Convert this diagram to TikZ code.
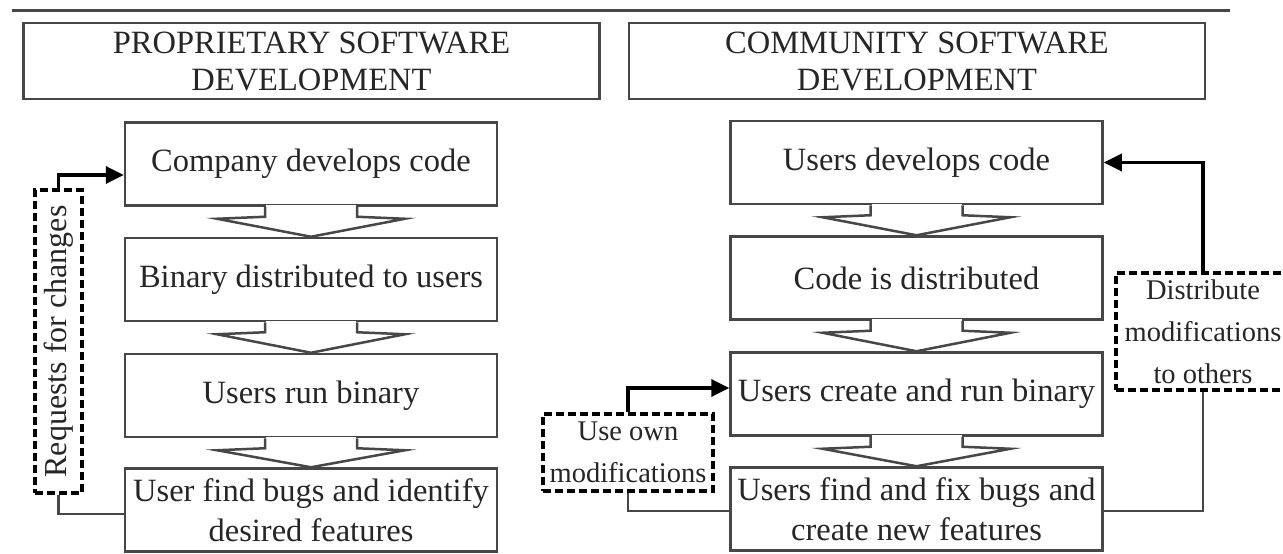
\documentclass[tikz,border=0pt]{standalone}
\usepackage{fontspec}
\setmainfont{Liberation Serif}
\usetikzlibrary{calc,arrows.meta}
\tikzset{
  box/.style={draw=black!72, line width=2.5pt, minimum width=372pt, minimum height=83pt,
    inner sep=0pt, align=center, text=black!85, font=\fontsize{32.5}{40}\selectfont},
  title/.style={box, minimum width=576pt, minimum height=76pt, font=\fontsize{32.5}{37}\selectfont},
  note/.style={draw=black, line width=3.5pt, dash pattern=on 8pt off 4pt, inner sep=0pt,
    align=center, text=black!85, font=\fontsize{28.5}{42}\selectfont},
  chev/.style={draw=black!72, line width=2.5pt},
  back/.style={draw=black!72, line width=2.5pt},
  fwd/.style={draw=black, line width=3.5pt, -{Triangle[length=18pt,width=17pt]}},
}

\begin{document}
\begin{tikzpicture}[x=1pt,y=-1pt]
  \useasboundingbox (0,0) rectangle (1283,554);
  \draw[line width=3pt, black!72] (12,10) -- (1230,10);

  \node[title] (lt) at (311.5,61) {PROPRIETARY SOFTWARE\\DEVELOPMENT};
  \node[title] (rt) at (917,61) {COMMUNITY SOFTWARE\\DEVELOPMENT};

  \node[box] (l1) at (311,164) {Company develops code};
  \node[box] (l2) at (311,279.5) {Binary distributed to users};
  \node[box] (l3) at (311,395.5) {Users run binary};
  \node[box] (l4) at (311,510) {User find bugs and identify\\desired features};

  \node[box] (r1) at (916.5,162.5) {Users develops code};
  \node[box] (r2) at (916.5,278) {Code is distributed};
  \node[box] (r3) at (916.5,394) {Users create and run binary};
  \node[box] (r4) at (916.5,509) {Users find and fix bugs and\\create new features};

  \foreach \c in {l,r}{
    \foreach \i [evaluate=\i as \j using int(\i+1)] in {1,2,3}{
      \draw[white, line width=3.5pt] ($(\c\i.south)+(-45,0)$) -- ($(\c\i.south)+(45,0)$);
      \draw[chev] ($(\c\i.south)+(-46,0)$) -- ++(0,10) -- ++(-48,2) -- (\c\j.north)
        -- ($(\c\i.south)+(94,12)$) -- ++(-48,-2) -- ++(0,-10);
    }
  }

  \node[note, minimum width=47pt, minimum height=303pt] (req) at (58.5,341.5) {};
  \node[rotate=90, text=black!85, font=\fontsize{32}{38}\selectfont] (reqtxt) at (req) {Requests for changes};
  \node[note, minimum width=174pt, minimum height=117pt] (dist) at (1203,331.5) {Distribute\\modifications\\to others};
  \node[note, minimum width=170pt, minimum height=77pt] (own) at (628,452.5) {Use own\\modifications};

  \draw[fwd] (req.north) |- ($(l1.west)+(0,11)$);
  \draw[back] ($(l4.west)+(0,4)$) -| (req.south);
  \draw[fwd] (dist.north) |- (r1.east);
  \draw[back] ($(r4.east)+(0,2)$) -| (dist.south);
  \draw[fwd] (own.north) |- ($(r3.west)+(0,-6)$);
  \draw[back] ($(r4.west)+(0,2)$) -| (own.south);
\end{tikzpicture}
\end{document}
